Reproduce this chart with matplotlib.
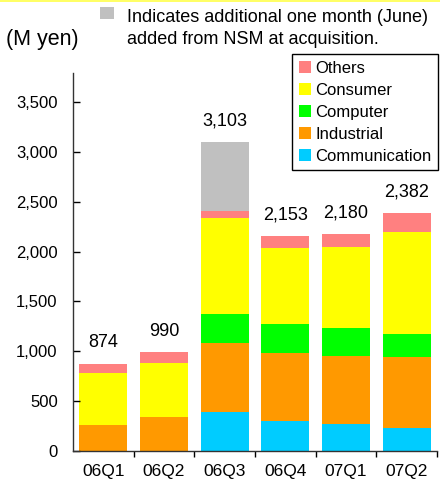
import matplotlib
matplotlib.use("Agg")
import matplotlib.pyplot as plt
from matplotlib.patches import Rectangle
from matplotlib.ticker import FuncFormatter, FixedLocator
import numpy as np

plt.rcParams['font.family'] = ['Liberation Sans', 'DejaVu Sans']

quarters = ["06Q1", "06Q2", "06Q3", "06Q4", "07Q1", "07Q2"]
communication = [0, 0, 394, 300, 274, 234]
industrial = [260, 345, 690, 683, 679, 709]
computer = [0, 0, 290, 294, 281, 234]
consumer = [522, 537, 963, 760, 812, 1020]
others = [92, 108, 70, 116, 134, 185]
nsm_june = [0, 0, 696, 0, 0, 0]

segments = [
    ("Communication", communication, "#00CCFF"),
    ("Industrial", industrial, "#FF9900"),
    ("Computer", computer, "#00FF00"),
    ("Consumer", consumer, "#FFFF00"),
    ("Others", others, "#FF8080"),
]

W, H = 440, 486
fig = plt.figure(figsize=(W / 100, H / 100), dpi=100)
ax = fig.add_axes([73 / W, 1 - 451 / H, 364 / W, 378 / H])

x = np.arange(len(quarters))
bottom = np.zeros(len(quarters))
handles = {}
for name, vals, col in segments:
    v = np.array(vals, dtype=float)
    b = ax.bar(x, v, 0.79, bottom=bottom, color=col, linewidth=0, label=name)
    handles[name] = b
    bottom += v
ax.bar(x, nsm_june, 0.79, bottom=bottom, color="#C0C0C0", linewidth=0)
bottom += np.array(nsm_june, dtype=float)

for xi, tot in zip(x, bottom):
    ax.annotate(f"{int(tot):,}", (xi, tot), xytext=(0, 9), textcoords="offset points",
                ha="center", va="bottom", fontsize=13)

ax.set_xlim(-0.5, len(quarters) - 0.5)
ax.set_ylim(0, 3790)
ax.set_yticks(np.arange(0, 3501, 500))
ax.yaxis.set_major_formatter(FuncFormatter(lambda v, p: f"{int(v):,}"))
ax.tick_params(axis="y", direction="in", length=5, width=1, labelsize=12, pad=11)

ax.set_xticks(x)
ax.set_xticklabels(quarters)
ax.tick_params(axis="x", which="major", length=0, labelsize=12.5, pad=9)
ax.xaxis.set_minor_locator(FixedLocator(np.arange(0.5, len(quarters), 1.0)))
ax.tick_params(axis="x", which="minor", direction="out", length=4, width=1)

for s in ["top", "right"]:
    ax.spines[s].set_visible(False)
for s in ["left", "bottom"]:
    ax.spines[s].set_color("#333333")
    ax.spines[s].set_linewidth(1)

order = ["Others", "Consumer", "Computer", "Industrial", "Communication"]
leg = fig.legend([handles[n] for n in order], order,
                 loc="upper left", bbox_to_anchor=(292 / W, 1 - 54 / H),
                 bbox_transform=fig.transFigure, fontsize=12,
                 frameon=True, fancybox=False, shadow=False,
                 edgecolor="black", framealpha=1, borderaxespad=0,
                 borderpad=0.4, labelspacing=0.42, handlelength=0.75,
                 handleheight=0.75, handletextpad=0.25)
leg.get_frame().set_linewidth(1)

# header band and notes
fig.add_artist(Rectangle((0, 1 - 2 / H), 1, 2 / H, transform=fig.transFigure,
                         color="#FFFF66", linewidth=0))
fig.add_artist(Rectangle((100 / W, 1 - 19 / H), 14 / W, 12 / H,
                         transform=fig.transFigure, color="#C0C0C0", linewidth=0))
fig.text(127 / W, 1 - 17 / H, "Indicates additional one month (June)",
         fontsize=13, va="center", ha="left")
fig.text(127 / W, 1 - 40 / H, "added from NSM at acquisition.",
         fontsize=13, va="center", ha="left")
fig.text(6 / W, 1 - 40 / H, "(M yen)", fontsize=15.5, va="center", ha="left")

fig.savefig("out.png", dpi=100)
